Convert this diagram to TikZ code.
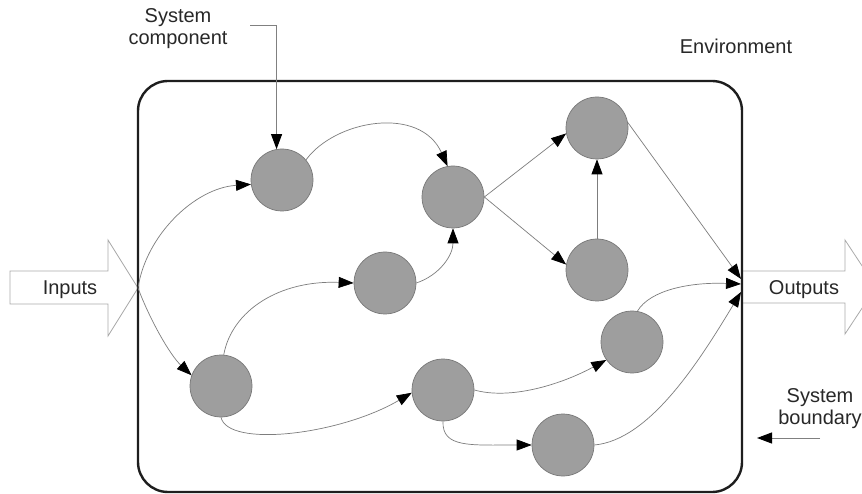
\documentclass[tikz,border=0pt]{standalone}
\usepackage{fontspec}
\setmainfont{Liberation Sans}
\usetikzlibrary{arrows.meta}
\definecolor{linkgray}{RGB}{125,125,125}
\definecolor{discfill}{RGB}{158,158,158}
\definecolor{discedge}{RGB}{120,120,120}
\definecolor{blockedge}{RGB}{170,170,170}
\definecolor{labeltext}{RGB}{40,40,40}
\definecolor{edgedark}{RGB}{30,30,30}

\begin{document}
\begin{tikzpicture}[x=1pt,y=1pt,
  disc/.style={circle, fill=discfill, draw=discedge, line width=0.7pt,
    minimum size=62pt, inner sep=0pt},
  link/.style={draw=linkgray, line width=0.7pt,
    -{Triangle[length=15pt,width=11pt,color=black]}},
  pointer/.style={draw=gray, line width=1pt,
    -{Triangle[length=15pt,width=11pt,color=black]}},
  lbl/.style={font=\fontsize{20}{22}\selectfont, text=labeltext, inner sep=0pt},
  flow/.style={draw=blockedge, line width=0.8pt, fill=white, line join=miter}]

\useasboundingbox (0,0) rectangle (862,-494);
\fill[white] (0,0) rectangle (862,-494);
\clip (0,0) rectangle (862,-494);

% block arrows for inputs and outputs
\draw[flow] (10,-271) -- (108,-271) -- (108,-240) -- (138,-288) -- (108,-336)
  -- (108,-304) -- (10,-304) -- cycle;
\draw[flow] (742,-271) -- (845,-271) -- (845,-240) -- (876,-287) -- (845,-334)
  -- (845,-303) -- (742,-303);

% system boundary
\draw[draw=edgedark, line width=2.4pt, rounded corners=30pt]
  (138,-81) rectangle (742,-492);

% entry and exit points on the boundary
\coordinate (inTip) at (138,-288);
\coordinate (outA) at (741,-279);
\coordinate (outB) at (741,-284);
\coordinate (outC) at (741,-292);

% components
\node[disc] (A) at (282,-180) {};
\node[disc] (B) at (453,-197) {};
\node[disc] (C) at (597,-128) {};
\node[disc] (D) at (597,-270) {};
\node[disc] (E) at (385,-283) {};
\node[disc] (F) at (221,-386) {};
\node[disc] (G) at (443,-390) {};
\node[disc] (H) at (632,-342) {};
\node[disc] (I) at (563,-445) {};

% flows between components
\draw[link] (inTip) .. controls (146,-235) and (195,-188) .. (A.188);
\draw[link] (inTip) .. controls (150,-320) and (170,-355) .. (F.160);
\draw[link] (A.40) .. controls (335,-120) and (420,-105) .. (B.100);
\draw[link] (E.east) .. controls (440,-275) and (453,-255) .. (B.south);
\draw[link] (F.85) .. controls (232,-310) and (280,-280) .. (E.west);
\draw[link] (B.east) -- (C.190);
\draw[link] (B.east) -- (D.170);
\draw[link] (D.north) -- (C.south);
\draw[link] (C.10) -- (outA);
\draw[link] (H.80) .. controls (650,-290) and (690,-282) .. (outB);
\draw[link] (I.east) .. controls (650,-440) and (700,-360) .. (outC);
\draw[link] (F.south) .. controls (228,-448) and (340,-435) .. (G.185);
\draw[link] (G.east) .. controls (510,-400) and (560,-385) .. (H.215);
\draw[link] (G.south) .. controls (442,-448) and (470,-445) .. (I.west);

% labels
\node[lbl, align=center] (sc) at (178,-29) {System\\component};
\node[lbl, anchor=base] (env) at (736,-54) {Environment};
\node[lbl, anchor=base] (inl) at (70,-295) {Inputs};
\node[lbl, anchor=base] (outl) at (804,-295) {Outputs};
\node[lbl, align=center] (sb) at (820,-409) {System\\boundary};

% label pointers
\coordinate (scTail) at (250,-26);
\draw[pointer] (scTail) -| (A.100);
\coordinate (sbTail) at (820,-438);
\coordinate (sbTip) at (757,-438);
\draw[pointer] (sbTail) -- (sbTip);
\end{tikzpicture}
\end{document}
